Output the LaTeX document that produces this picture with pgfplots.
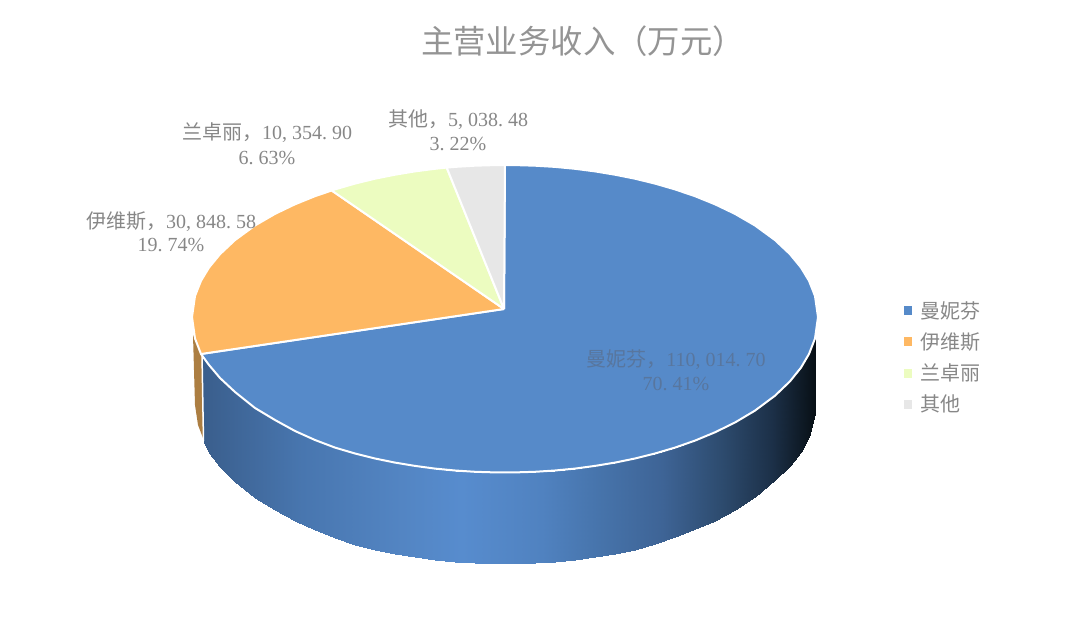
\documentclass[border=0pt]{standalone}
\usepackage{fontspec}
\usepackage{pgfplots}
\pgfplotsset{compat=1.18}
\setmainfont{Liberation Serif}
\newfontfamily\cjk{Noto Sans CJK SC}
\definecolor{cblue}{RGB}{86,138,201}
\definecolor{corange}{RGB}{254,184,99}
\definecolor{clime}{RGB}{236,252,192}
\definecolor{cgrey}{RGB}{231,231,231}
\definecolor{cbrown}{RGB}{172,126,66}
\definecolor{ctext}{RGB}{135,135,135}
\definecolor{ctitle}{RGB}{148,148,148}
\definecolor{cinner}{RGB}{88,118,158}
\newcommand{\fs}[1]{\fontsize{#1}{#1}\selectfont}
\begin{document}
\begin{tikzpicture}
\path (0,0) rectangle (1080pt,628pt);
\begin{axis}[
    at={(0,0)}, anchor=south west,
    width=1080pt, height=628pt, scale only axis,
    xmin=0, xmax=1080, ymin=0, ymax=628, y dir=reverse,
    hide axis,
    colormap={pieside}{
        rgb255(0cm)=(58,94,140);
        rgb255(1cm)=(72,118,175);
        rgb255(2cm)=(83,133,195);
        rgb255(2.6cm)=(87,140,206);
        rgb255(3.4cm)=(80,130,192);
        rgb255(4cm)=(70,115,170);
        rgb255(4.6cm)=(62,100,150);
        rgb255(5.2cm)=(45,75,110);
        rgb255(5.7cm)=(28,48,72);
        rgb255(6.13cm)=(8,16,22)
    },
    point meta min=202, point meta max=815,
    legend cell align=left,
    legend style={draw=none, fill=none, at={(0.8357,0.5238)}, anchor=north west,
        font=\cjk\fs{20}, text=ctext, inner sep=0pt, row sep=9pt},
    legend image code/.code={
        \path[#1,draw=none] (0.1em,-4.5pt) rectangle (9.1pt,4.5pt);
        \path[draw=none,fill=none] (0pt,0pt) -- (16pt,0pt);
    },
]
% orange side sliver
\addplot[fill=cbrown, draw=none, forget plot] coordinates {
    (193,335) (202,353) (203,438) (198,425) (195,405) (193,335)
};
% blue side wall, top row then bottom row
\addplot[surf, shader=interp, mesh/rows=2, point meta=x, forget plot] table[row sep=crcr] {
x y\\
202 354\\ 209 365\\ 220 378\\ 235 392\\ 255 408\\ 275 420\\ 295 431\\ 315 440\\ 335 447.6\\ 355 453.5\\
375 458.5\\ 395 462.6\\ 415 465.9\\ 435 468.6\\ 455 470.5\\ 475 471.8\\ 495 472.4\\ 515 472.4\\ 535 471.8\\ 555 470.5\\
575 468.6\\ 595 465.9\\ 615 462.6\\ 635 458.5\\ 655 453.5\\ 675 447.6\\ 695 440.6\\ 715 432.3\\ 735 422.5\\ 755 410.6\\
775 395.7\\ 790 381.3\\ 801 367.6\\ 809 354\\ 815 338.5\\
204 443\\ 209 453\\ 220 467\\ 235 482\\ 255 498\\ 275 510\\ 295 521\\ 315 530\\ 335 538\\ 355 544.5\\
375 549.6\\ 395 553.9\\ 415 557.3\\ 435 560\\ 455 562\\ 475 563.3\\ 495 563.9\\ 515 563.9\\ 535 563.3\\ 555 562\\
575 560\\ 595 557.3\\ 615 553.9\\ 635 549.6\\ 655 543.5\\ 675 536.5\\ 695 529\\ 715 520.5\\ 735 510\\ 755 497\\
775 480\\ 790 466\\ 801 452\\ 809 437\\ 815 414\\
};
% edge between the orange and the blue side
\addplot[white, line width=1.5pt, forget plot] coordinates {(202,354) (203.5,441)};
% top faces
\addplot[fill=cblue, draw=white, line width=2pt, line join=round] coordinates {
    (504,309) (505,165) (515,165.1) (535,165.7) (555,166.9) (575,168.8) (595,171.4) (615,174.7) (635,178.7)
    (655,183.6) (675,189.4) (695,196.2) (715,204.3) (735,213.9) (755,225.5) (775,240.1) (790,254.2) (801,267.6)
    (809,280.8) (815,296) (818,317) (815,338.5) (809,354) (801,367.6) (790,381.3) (775,395.7) (755,410.6)
    (735,422.5) (715,432.3) (695,440.6) (675,447.6) (655,453.5) (635,458.5) (615,462.6) (595,465.9) (575,468.6)
    (555,470.5) (535,471.8) (515,472.4) (495,472.4) (475,471.8) (455,470.5) (435,468.6) (415,465.9) (395,462.6)
    (375,458.5) (355,453.5) (335,447.6) (315,440) (295,431) (275,420) (255,408) (235,392) (220,378)
    (209,365) (201,354) (504,309)
};
\addlegendentry{曼妮芬}
\addplot[fill=corange, draw=white, line width=2pt, line join=round] coordinates {
    (504,309) (201,354) (195,338.5) (192,317) (195,296) (201,280.8) (209,267.6) (220,254.2) (235,240.1)
    (255,225.5) (275,213.9) (295,204.3) (315,196.2) (331.7,190.5) (504,309)
};
\addlegendentry{伊维斯}
\addplot[fill=clime, draw=white, line width=2pt, line join=round] coordinates {
    (504,309) (331.7,190.5) (335,189.4) (355,183.6) (375,178.7) (395,174.7) (415,171.4) (435,168.8) (446.7,167.6) (504,309)
};
\addlegendentry{兰卓丽}
\addplot[fill=cgrey, draw=white, line width=2pt, line join=round] coordinates {
    (504,309) (446.7,167.6) (455,166.9) (475,165.7) (495,165.1) (505,165) (504,309)
};
\addlegendentry{其他}

\node[text=ctitle, inner sep=0pt, font=\cjk\fs{32.4}] at (axis cs:583,41) {主营业务收入（万元）};
\node[text=ctext, inner sep=0pt, font=\fs{20}] at (axis cs:267,133) {{\cjk 兰卓丽，}10,\kern5pt 354.\kern5pt 90};
\node[text=ctext, inner sep=0pt, font=\fs{20}] at (axis cs:267,158) {6.\kern5pt 63\%};
\node[text=ctext, inner sep=0pt, font=\fs{20}] at (axis cs:458,120) {{\cjk 其他，}5,\kern5pt 038.\kern5pt 48};
\node[text=ctext, inner sep=0pt, font=\fs{20}] at (axis cs:458,144) {3.\kern5pt 22\%};
\node[text=ctext, inner sep=0pt, font=\fs{20}] at (axis cs:171,222) {{\cjk 伊维斯，}30,\kern5pt 848.\kern5pt 58};
\node[text=ctext, inner sep=0pt, font=\fs{20}] at (axis cs:171,245) {19.\kern5pt 74\%};
\node[text=cinner, inner sep=0pt, font=\fs{20}] at (axis cs:676,360) {{\cjk 曼妮芬，}110,\kern5pt 014.\kern5pt 70};
\node[text=cinner, inner sep=0pt, font=\fs{20}] at (axis cs:676,384) {70.\kern5pt 41\%};
\end{axis}
\end{tikzpicture}
\end{document}
